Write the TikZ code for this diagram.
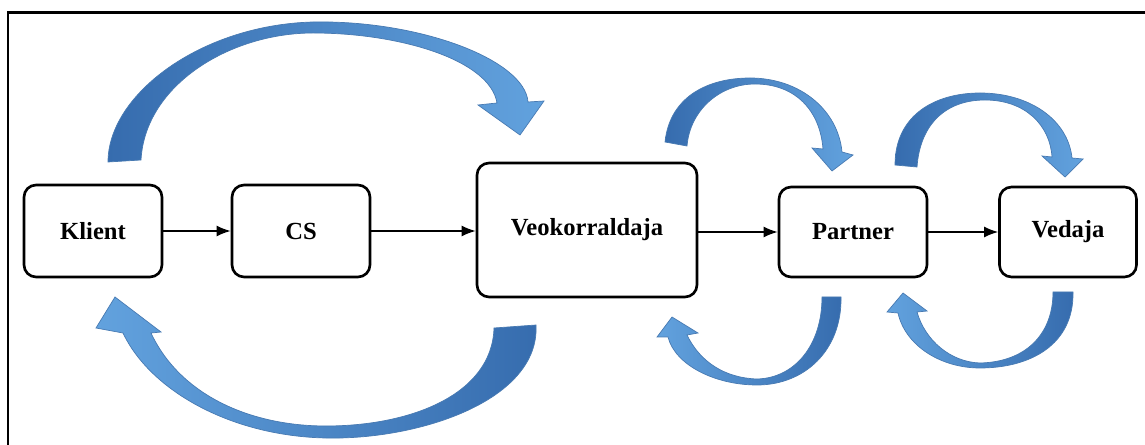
\documentclass[tikz,border=0pt]{standalone}
\usepackage{fontspec}
\setmainfont{Liberation Serif}
\usetikzlibrary{arrows.meta}
\definecolor{bdark}{RGB}{54,108,174}
\definecolor{blight}{RGB}{98,162,222}
\definecolor{bedge}{RGB}{72,122,178}
\begin{document}
\begin{tikzpicture}[x=0.02cm,y=-0.02cm,
  box/.style={draw,line width=1.5pt,rounded corners=0.24cm,fill=white,
    font=\fontsize{14}{16}\selectfont\bfseries,inner sep=0pt},
  flow/.style={line width=0.9pt,-{Latex[length=0.28cm,width=0.22cm]}},
  barrow/.style={draw=bedge,line width=0.4pt},
  tailleft/.style={barrow,left color=bdark,right color=blight},
  tailright/.style={barrow,left color=blight,right color=bdark},
  frameline/.style={line width=1.7pt}]
\useasboundingbox (0,0) rectangle (1145,445);

% frame (top and left only)
\coordinate (ftl) at (8,13);
\coordinate (ftr) at (1145,13);
\coordinate (fbl) at (8,445);
\draw[frameline] (ftr) -- (ftl) -- (fbl);

% nodes
\node[box,minimum width=2.76cm,minimum height=1.84cm] (klient) at (93,231) {Klient};
\node[box,minimum width=2.76cm,minimum height=1.84cm] (cs) at (301,231) {CS};
\node[box,minimum width=4.4cm,minimum height=2.68cm] (veo) at (587,230) {Veokorraldaja};
\node[box,minimum width=2.96cm,minimum height=1.8cm] (partner) at (853,232) {Partner};
\node[box,minimum width=2.74cm,minimum height=1.8cm] (vedaja) at (1068,232) {Vedaja};

% straight connectors
\draw[flow] (klient.east) -- (cs.west);
\draw[flow] (cs.east) -- (veo.west |- cs.east);
\draw[flow] (veo.east |- partner.west) -- (partner.west);
\draw[flow] (partner.east) -- (vedaja.west);

% A: Klient -> Veokorraldaja (top)
\path[tailleft] (108,162) .. controls (108,95) and (200,25) .. (313,22)
  .. controls (420,20) and (525,60) .. (528,102)
  -- (544,101) -- (520,135) -- (478,105) -- (497,103)
  .. controls (490,60) and (400,33) .. (313,33)
  .. controls (230,33) and (145,85) .. (141,160) -- cycle;

% B: Veokorraldaja -> Klient (bottom)
\path[tailright] (536,325) .. controls (540,400) and (420,440) .. (326,438)
  .. controls (230,436) and (150,390) .. (123,333)
  -- (96,328) -- (115,297) -- (161,332) -- (151,333)
  .. controls (180,395) and (250,426) .. (326,426)
  .. controls (410,426) and (492,395) .. (494,328) -- cycle;

% C: Veokorraldaja -> Partner (top)
\path[tailleft] (665,142) .. controls (670,95) and (710,78) .. (750,78)
  .. controls (800,78) and (838,110) .. (842,152)
  -- (853,155) -- (832,171) -- (812,148) -- (823,149)
  .. controls (820,110) and (795,84) .. (755,84)
  .. controls (720,84) and (690,110) .. (687,146) -- cycle;

% D: Partner -> Vedaja (top)
\path[tailleft] (895,165) .. controls (895,115) and (935,93) .. (980,93)
  .. controls (1030,93) and (1068,120) .. (1072,158)
  -- (1083,159) -- (1065,177) -- (1042,156) -- (1052,157)
  .. controls (1050,125) and (1025,100) .. (985,100)
  .. controls (945,100) and (920,125) .. (917,167) -- cycle;

% E: Partner -> Veokorraldaja (bottom)
\path[tailright] (841,297) .. controls (842,350) and (805,385) .. (757,385)
  .. controls (715,385) and (675,365) .. (668,337)
  -- (657,337) -- (672,317) -- (698,333) -- (687,335)
  .. controls (700,362) and (725,378) .. (757,379)
  .. controls (795,378) and (822,345) .. (822,297) -- cycle;

% F: Vedaja -> Partner (bottom)
\path[tailright] (1073,292) .. controls (1074,345) and (1030,368) .. (980,368)
  .. controls (940,368) and (905,345) .. (898,313)
  -- (887,312) -- (903,293) -- (927,311) -- (917,312)
  .. controls (925,340) and (950,362) .. (980,363)
  .. controls (1025,362) and (1053,335) .. (1053,292) -- cycle;
\end{tikzpicture}
\end{document}
